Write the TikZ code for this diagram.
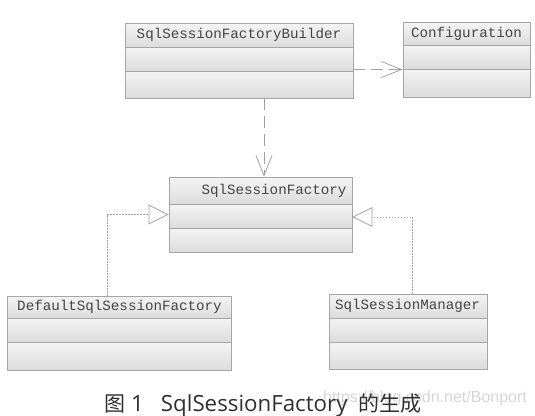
\documentclass[tikz,border=0pt]{standalone}
\usepackage{fontspec}
\setmonofont{Liberation Mono}
\newfontfamily\cjkfont{Noto Sans CJK SC}
\newfontfamily\latcap{Open Sans}
\newfontfamily\wmfont{Liberation Sans}
\usetikzlibrary{arrows.meta,fit}
\definecolor{boxline}{HTML}{A6A6A6}
\definecolor{boxtop}{HTML}{F4F4F4}
\definecolor{boxbot}{HTML}{DCDCDC}
\definecolor{classtxt}{HTML}{444444}
\definecolor{linkline}{HTML}{A0A0A0}
\definecolor{captxt}{HTML}{303030}
\definecolor{wmtxt}{HTML}{D6D6D6}
\tikzset{
  compline/.style={draw=boxline, line width=0.8pt},
  classframe/.style={draw=boxline, line width=0.9pt, rectangle, inner sep=0pt},
  classtext/.style={text=classtxt, font=\ttfamily\fontsize{14.2}{16}\selectfont, inner sep=0pt},
  depend/.style={draw=linkline, line width=0.8pt, dash pattern=on 12pt off 6pt, -{Straight Barb[length=20pt,width=16pt,line width=0.8pt]}},
  general/.style={draw=linkline, line width=0.8pt, dash pattern=on 1.2pt off 1.8pt, -{Triangle[open,length=20pt,width=20pt,line width=0.8pt,fill=white]}},
}
% #1 name, #2 x1, #3 y1, #4 x2, #5 y2, #6 header bottom, #7 divider, #8 text centre x, #9 text
\newcommand\umlclass[9]{%
  \shade[top color=boxtop,bottom color=boxbot] (#2,#3) rectangle (#4,#6);
  \shade[top color=boxtop,bottom color=boxbot] (#2,#6) rectangle (#4,#7);
  \shade[top color=boxtop,bottom color=boxbot] (#2,#7) rectangle (#4,#5);
  \draw[compline] (#2,#6) -- (#4,#6);
  \draw[compline] (#2,#7) -- (#4,#7);
  \node[classframe, fit={(#2,#3) (#4,#5)}] (#1) {};
  \node[classtext] (#1-name) at (#8,{(#3+#6)/2}) {#9};
}
\begin{document}
\begin{tikzpicture}[x=1pt,y=-1pt]
\useasboundingbox[fill=white] (0,0) rectangle (535,415);
\umlclass{bld}{125}{23}{353}{98}{47}{71}{239}{SqlSessionFactoryBuilder}
\umlclass{cfg}{403}{22}{530}{97}{45}{69}{466.5}{Configuration}
\umlclass{ssf}{169}{177}{352}{252}{204}{228}{274}{SqlSessionFactory}
\umlclass{dsf}{7}{296}{231}{370}{318}{342}{119.5}{DefaultSqlSessionFactory}
\umlclass{ssm}{329}{294}{487}{369}{318}{342}{407.5}{SqlSessionManager}
% connectors
\draw[depend] ([yshift=-10pt]cfg.west -| bld.east) -- ([yshift=-10pt]cfg.west);
\draw[depend] ([xshift=25pt]bld.south) -- ([xshift=25pt]bld.south |- ssf.north);
\draw[general] ([xshift=-11.5pt]dsf.north) |- (ssf.west);
\draw[general] ([xshift=4.5pt]ssm.north) |- ([yshift=-2.5pt]ssf.east);
% caption and watermark
\node[anchor=base west, inner sep=0pt, text=wmtxt, font=\wmfont\fontsize{16}{18}\selectfont] (wm) at (323,402) {https://blog.csdn.net/Bonport};
\node[anchor=base west, inner sep=0pt, text=captxt, font=\cjkfont\fontsize{21}{24}\selectfont] (cap) at (104,411) {图\hspace{6pt}{\latcap\fontsize{22.3}{24}\selectfont 1\hspace{17pt}SqlSessionFactory\hspace{5pt} }的生成};
\end{tikzpicture}
\end{document}
